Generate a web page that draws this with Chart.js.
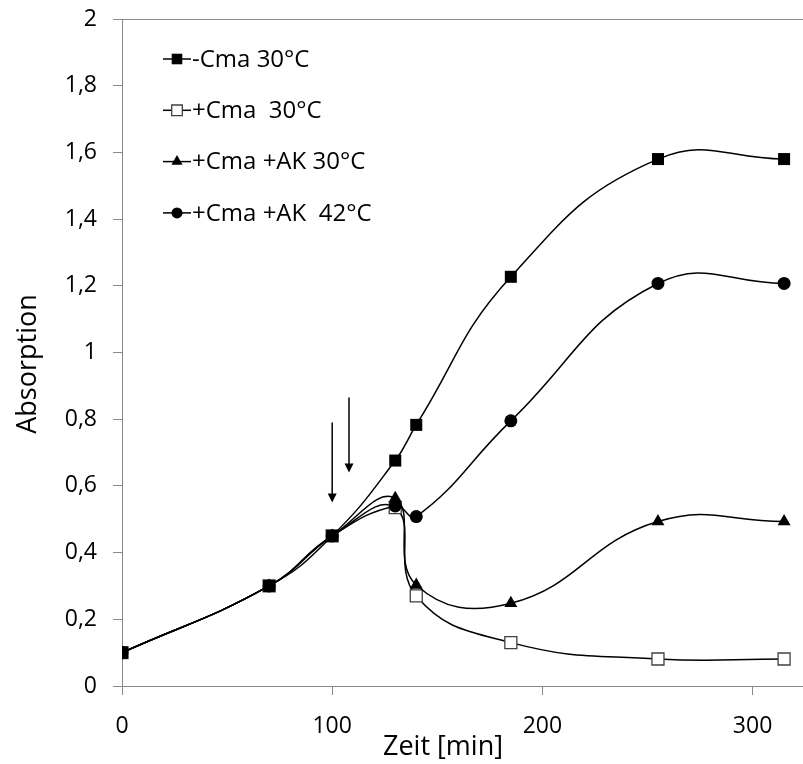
<!DOCTYPE html>
<html>
<head>
<meta charset="utf-8">
<script src="https://cdn.jsdelivr.net/npm/chart.js@4.4.1/dist/chart.umd.min.js"></script>
<style>
  html, body { margin: 0; padding: 0; background: #fff; overflow: hidden; }
  #wrap { width: 803px; height: 764px; }
</style>
</head>
<body>
<div id="wrap"><canvas id="chart" width="803" height="764"></canvas></div>
<script>
// values
const times = [0, 70, 100, 130, 140, 185, 255, 315];
const minusCma30 = [0.1, 0.3, 0.45, 0.676, 0.783, 1.227, 1.58, 1.58];
const plusCma30 = [0.1, 0.3, 0.45, 0.535, 0.27, 0.13, 0.081, 0.081];
const plusCmaAK30 = [0.1, 0.3, 0.45, 0.563, 0.303, 0.248, 0.493, 0.493];
const plusCmaAK42 = [0.1, 0.3, 0.45, 0.54, 0.508, 0.795, 1.207, 1.207];
const seriesLabels = ["-Cma 30°C", "+Cma  30°C", "+Cma +AK 30°C", "+Cma +AK  42°C"];
const xTicks = [0, 100, 200, 300];
const yTicks = [0, 0.2, 0.4, 0.6, 0.8, 1, 1.2, 1.4, 1.6, 1.8, 2];
// arrows: x position, start and end value
const arrows = [
  { x: 100, from: 0.79, to: 0.55 },
  { x: 108, from: 0.865, to: 0.64 }
];

const FONT = '"Open Sans", sans-serif';
const AXIS = "#898989";

const pts = vals => vals.map((v, i) => ({ x: times[i], y: v }));

function mkSet(label, vals, style, fill, radius, legendRadius, order) {
  return {
    label, data: pts(vals), order,
    borderColor: "#000", borderWidth: 1.5, tension: 0.45,
    pointStyle: style, pointRadius: radius, pointHoverRadius: radius,
    pointBackgroundColor: fill, pointBorderColor: fill === "#fff" ? "#404040" : "#000",
    pointBorderWidth: fill === "#fff" ? 1.3 : 0,
    legendRadius
  };
}

const datasets = [
  mkSet(seriesLabels[0], minusCma30, "rect", "#000", 8.5, 7.5, 0),
  mkSet(seriesLabels[1], plusCma30, "rect", "#fff", 8.5, 7.5, 3),
  mkSet(seriesLabels[2], plusCmaAK30, "triangle", "#000", 7.5, 6.5, 1),
  mkSet(seriesLabels[3], plusCmaAK42, "circle", "#000", 6.5, 5.5, 2)
];

const extras = {
  id: "extras",
  afterDatasetsDraw(chart) {
    const { ctx, scales: { x, y }, chartArea } = chart;
    ctx.save();
    // arrows
    ctx.strokeStyle = "#000"; ctx.fillStyle = "#000"; ctx.lineWidth = 1.5;
    arrows.forEach(a => {
      const px = x.getPixelForValue(a.x);
      const y0 = y.getPixelForValue(a.from), y1 = y.getPixelForValue(a.to);
      ctx.beginPath(); ctx.moveTo(px, y0); ctx.lineTo(px, y1 - 8); ctx.stroke();
      ctx.beginPath(); ctx.moveTo(px - 4.5, y1 - 9); ctx.lineTo(px + 4.5, y1 - 9); ctx.lineTo(px, y1); ctx.closePath(); ctx.fill();
    });
    // legend
    ctx.font = "24px " + FONT;
    ctx.textBaseline = "middle";
    ctx.textAlign = "left";
    chart.data.datasets.forEach((ds, i) => {
      const ry = chartArea.top + 40 + i * 51.3;
      const lx = chartArea.left + 41;
      ctx.strokeStyle = "#000"; ctx.lineWidth = 1.5;
      ctx.beginPath(); ctx.moveTo(lx, ry); ctx.lineTo(lx + 28, ry); ctx.stroke();
      ctx.fillStyle = ds.pointBackgroundColor;
      ctx.strokeStyle = ds.pointBorderColor;
      ctx.lineWidth = ds.pointBorderWidth;
      Chart.helpers.drawPoint(ctx, { pointStyle: ds.pointStyle, radius: ds.legendRadius, borderWidth: ds.pointBorderWidth, rotation: 0 }, lx + 14, ry);
      ctx.fillStyle = "#000";
      ctx.fillText(ds.label, lx + 29, ry + 1);
    });
    ctx.restore();
  },
  afterDraw(chart) {
    const { ctx, chartArea } = chart;
    ctx.save();
    ctx.fillStyle = "#000";
    ctx.font = "27px " + FONT;
    ctx.textAlign = "center";
    ctx.textBaseline = "middle";
    ctx.fillText("Zeit [min]", chartArea.left + 321, chartArea.bottom + 61);
    ctx.translate(chartArea.left - 94, chartArea.top + 345);
    ctx.rotate(-Math.PI / 2);
    ctx.fillText("Absorption", 0, 0);
    ctx.restore();
  }
};

new Chart(document.getElementById("chart"), {
  type: "line",
  data: { datasets },
  plugins: [extras],
  options: {
    responsive: false,
    animation: false,
    devicePixelRatio: 1,
    layout: { autoPadding: false, padding: { top: 19, right: 0, left: 0, bottom: 0 } },
    plugins: { legend: { display: false }, tooltip: { enabled: false } },
    scales: {
      x: {
        type: "linear", min: 0, max: 324,
        afterBuildTicks: s => { s.ticks = xTicks.map(v => ({ value: v })); },
        afterFit: s => { s.height = 78; s.paddingLeft = 0; s.paddingRight = 0; },
        grid: { drawOnChartArea: false, tickLength: 9, tickColor: AXIS },
        border: { color: AXIS, width: 1 },
        ticks: { padding: 18, color: "#000", font: { family: FONT, size: 23 } }
      },
      y: {
        type: "linear", min: 0, max: 2,
        afterBuildTicks: s => { s.ticks = yTicks.map(v => ({ value: v })); },
        afterFit: s => { s.width = 122; s.paddingTop = 0; s.paddingBottom = 0; },
        grid: {
          color: c => (c.tick && c.tick.value === 2 ? AXIS : "rgba(0,0,0,0)"),
          tickLength: 9, tickColor: AXIS
        },
        border: { color: AXIS, width: 1 },
        ticks: {
          padding: 16, color: "#000", font: { family: FONT, size: 23 },
          callback: v => String(+v.toFixed(1)).replace(".", ",")
        }
      }
    }
  }
});
</script>
</body>
</html>
